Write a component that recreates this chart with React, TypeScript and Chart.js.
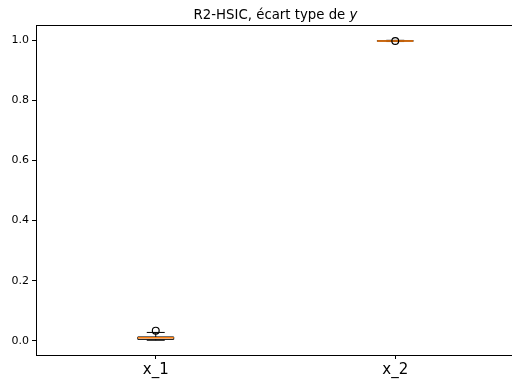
import React, { useEffect, useRef } from "react";
import { Chart, registerables } from "chart.js";

Chart.register(...registerables);

const categories = ["x_1", "x_2"];
const positions = [1, 2];
const whiskerLow = [0.002, 0.995];
const q1 = [0.005, 0.996];
const medians = [0.01, 0.997];
const q3 = [0.013, 0.998];
const whiskerHigh = [0.028, 0.999];
const outliers = [[0.034], [0.997]];
const yTicks = [0, 0.2, 0.4, 0.6, 0.8, 1.0];
const titleMain = "R2-HSIC, écart type de ";
const titleItalic = "y";

const FONT = "'DejaVu Sans', sans-serif";
const AXES_RIGHT = 515;

const boxPlugin = {
  id: "boxPlugin",
  afterLayout(chart: any) {
    const a = chart.chartArea;
    a.right = AXES_RIGHT;
    a.width = a.right - a.left;
    const xs = chart.scales.x;
    xs.right = AXES_RIGHT;
    xs.width = xs.right - xs.left;
    xs.configure();
  },
  beforeDatasetsDraw(chart: any) {
    const ctx = chart.ctx;
    const xs = chart.scales.x;
    const ys = chart.scales.y;
    ctx.save();
    for (let i = 0; i < categories.length; i++) {
      const cx = xs.getPixelForValue(positions[i]);
      const hw = xs.getPixelForValue(positions[i] + 0.075) - cx;
      const cw = hw / 2;
      const yq1 = ys.getPixelForValue(q1[i]);
      const yq3 = ys.getPixelForValue(q3[i]);
      const ymed = ys.getPixelForValue(medians[i]);
      const ylo = ys.getPixelForValue(whiskerLow[i]);
      const yhi = ys.getPixelForValue(whiskerHigh[i]);
      ctx.strokeStyle = "#000";
      ctx.lineWidth = 1;
      ctx.beginPath();
      ctx.moveTo(cx, yq1);
      ctx.lineTo(cx, ylo);
      ctx.moveTo(cx, yq3);
      ctx.lineTo(cx, yhi);
      ctx.moveTo(cx - cw, ylo);
      ctx.lineTo(cx + cw, ylo);
      ctx.moveTo(cx - cw, yhi);
      ctx.lineTo(cx + cw, yhi);
      ctx.stroke();
      ctx.beginPath();
      ctx.rect(cx - hw, yq3, hw * 2, yq1 - yq3);
      ctx.stroke();
      ctx.strokeStyle = "#ff7f0e";
      ctx.lineWidth = 1.5;
      ctx.beginPath();
      ctx.moveTo(cx - hw, ymed);
      ctx.lineTo(cx + hw, ymed);
      ctx.stroke();
    }
    ctx.restore();
  },
  afterDraw(chart: any) {
    const ctx = chart.ctx;
    const a = chart.chartArea;
    ctx.save();
    ctx.fillStyle = "#fff";
    ctx.fillRect(500, a.top + 1, 12, a.bottom - a.top - 2);
    ctx.strokeStyle = "#000";
    ctx.lineWidth = 1;
    ctx.beginPath();
    ctx.moveTo(a.left, Math.round(a.top) + 0.5);
    ctx.lineTo(a.right, Math.round(a.top) + 0.5);
    ctx.stroke();
    ctx.fillStyle = "#000";
    ctx.textBaseline = "alphabetic";
    const normalFont = `13.3px ${FONT}`;
    const italicFont = `oblique 13.3px ${FONT}`;
    ctx.font = normalFont;
    const w1 = ctx.measureText(titleMain).width;
    ctx.font = italicFont;
    const w2 = ctx.measureText(titleItalic).width;
    const cx = (a.left + a.right) / 2;
    const start = cx - (w1 + w2) / 2;
    const by = a.top - 6;
    ctx.textAlign = "left";
    ctx.font = normalFont;
    ctx.fillText(titleMain, start, by);
    ctx.font = italicFont;
    ctx.fillText(titleItalic, start + w1, by);
    ctx.restore();
  },
};

export default function App() {
  const ref = useRef<HTMLCanvasElement>(null);
  useEffect(() => {
    if (!ref.current) return;
    const datasets = categories.map((c, i) => ({
      label: c,
      data: outliers[i].map((v) => ({ x: positions[i], y: v })),
      pointStyle: "circle",
      pointRadius: 3.4,
      pointHoverRadius: 3.4,
      borderColor: "#000",
      backgroundColor: "rgba(0,0,0,0)",
      borderWidth: 1.2,
    }));
    const chart = new Chart(ref.current, {
      type: "scatter",
      data: { datasets },
      options: {
        animation: false,
        responsive: false,
        events: [],
        layout: { padding: { top: 25, right: 0, left: 0, bottom: 0 } },
        plugins: {
          legend: { display: false },
          title: { display: false },
          tooltip: { enabled: false },
        },
        scales: {
          x: {
            type: "linear",
            min: 0.5,
            max: 2.5,
            afterBuildTicks: (s: any) => {
              s.ticks = positions.map((p) => ({ value: p }));
            },
            afterFit: (s: any) => {
              s.height = 24;
            },
            ticks: {
              callback: (v: any) => {
                const idx = positions.indexOf(Number(v));
                return idx >= 0 ? categories[idx] : "";
              },
              font: { family: FONT, size: 15 },
              color: "#000",
              padding: 2,
              maxRotation: 0,
            },
            grid: {
              display: true,
              drawOnChartArea: false,
              drawTicks: true,
              tickLength: 4,
              tickColor: "#000",
            },
            border: { display: true, color: "#000", width: 1 },
          },
          y: {
            type: "linear",
            min: -0.047,
            max: 1.05,
            afterBuildTicks: (s: any) => {
              s.ticks = yTicks.map((v) => ({ value: v }));
            },
            afterFit: (s: any) => {
              s.width = 36;
            },
            ticks: {
              callback: (v: any) => Number(v).toFixed(1),
              font: { family: FONT, size: 11 },
              color: "#000",
              padding: 3,
            },
            grid: {
              display: true,
              drawOnChartArea: false,
              drawTicks: true,
              tickLength: 4,
              tickColor: "#000",
            },
            border: { display: true, color: "#000", width: 1 },
          },
        },
      },
      plugins: [boxPlugin],
    } as any);
    return () => chart.destroy();
  }, []);
  return (
    <div style={{ position: "fixed", left: 0, top: 0, width: 512, height: 379, background: "#fff" }}>
      <canvas ref={ref} width={512} height={379} style={{ width: 512, height: 379, display: "block" }} />
    </div>
  );
}
